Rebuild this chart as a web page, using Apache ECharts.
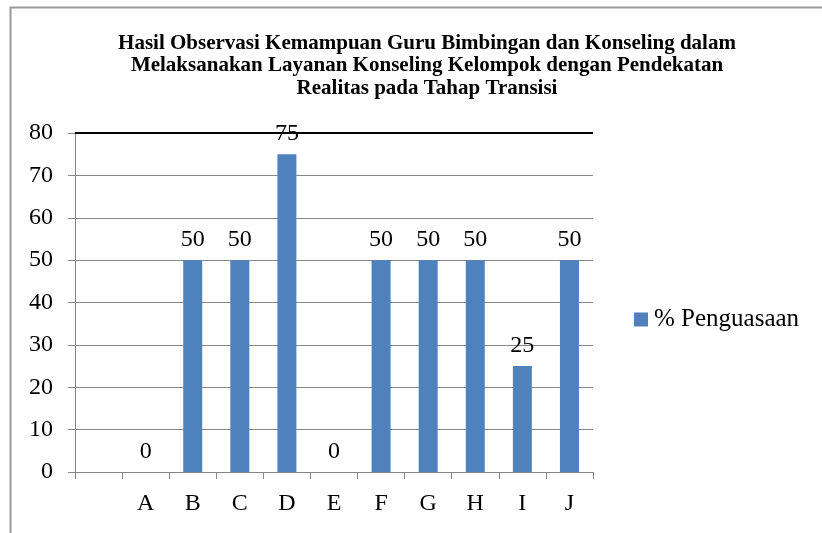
<!DOCTYPE html>
<html>
<head>
<meta charset="utf-8">
<script src="https://cdn.jsdelivr.net/npm/echarts@6/dist/echarts.min.js"></script>
<style>html,body{margin:0;padding:0;background:#fff}#c{width:822px;height:533px}</style>
</head>
<body>
<div id="c"></div>
<script>
const categories = ['', 'A', 'B', 'C', 'D', 'E', 'F', 'G', 'H', 'I', 'J'];
const penguasaan = ['-', 0, 50, 50, 75, 0, 50, 50, 50, 25, 50];
const seriesName = '% Penguasaan';
const titleText = 'Hasil Observasi Kemampuan Guru Bimbingan dan Konseling dalam\nMelaksanakan Layanan Konseling Kelompok dengan Pendekatan\nRealitas pada Tahap Transisi';
const yMin = 0, yMax = 80, yStep = 10;

const FONT = 'Liberation Serif';
const chart = echarts.init(document.getElementById('c'), null, {renderer: 'canvas'});
chart.setOption({
  animation: false,
  backgroundColor: '#fff',
  graphic: [{
    type: 'rect', left: 8, top: 5,
    shape: {width: 830, height: 540},
    style: {fill: 'none', stroke: '#9a9a9a', lineWidth: 2},
    silent: true
  }],
  title: {
    text: titleText,
    left: 422, top: 27, textAlign: 'center',
    textStyle: {fontFamily: FONT, fontWeight: 'bold', fontSize: 21, lineHeight: 22.5, color: '#000'}
  },
  legend: {
    data: [seriesName],
    left: 634, top: 307, padding: 0,
    itemWidth: 14, itemHeight: 14, itemGap: 6,
    icon: 'rect',
    textStyle: {fontFamily: FONT, fontSize: 25, color: '#000', padding: [0,0,0,1]}
  },
  grid: {left: 75, right: 229, top: 133, bottom: 61, containLabel: false},
  xAxis: {
    type: 'category',
    data: categories,
    boundaryGap: true,
    axisLine: {lineStyle: {color: '#868686', width: 1}},
    axisTick: {show: true, alignWithLabel: false, length: 7, lineStyle: {color: '#868686'}},
    axisLabel: {fontFamily: FONT, fontSize: 24, color: '#000', margin: 20, interval: 0},
    splitLine: {show: false}
  },
  yAxis: {
    type: 'value',
    min: yMin, max: yMax, interval: yStep,
    axisLine: {show: true, lineStyle: {color: '#868686', width: 1}},
    axisTick: {show: true, length: 7, lineStyle: {color: '#868686'}},
    axisLabel: {fontFamily: FONT, fontSize: 24, color: '#000', margin: 22},
    splitLine: {show: true, lineStyle: {color: '#868686', width: 1}}
  },
  series: [{
    name: seriesName,
    type: 'bar',
    data: penguasaan,
    barWidth: 19,
    itemStyle: {color: '#4F81BD'},
    label: {show: true, position: 'top', distance: 8, fontFamily: FONT, fontSize: 24, color: '#000'},
    markLine: {
      silent: true, symbol: 'none', label: {show: false},
      lineStyle: {color: '#000', width: 2, type: 'solid'},
      data: [{yAxis: yMax}]
    },
    z: 3
  }]
});
</script>
</body>
</html>
